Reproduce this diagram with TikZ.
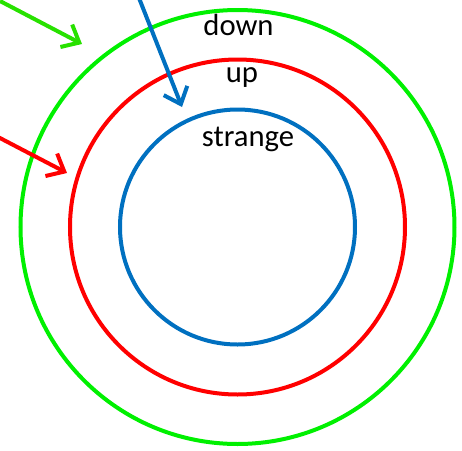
\documentclass[tikz,border=0pt]{standalone}
\usepackage{fontspec}
\setmainfont{Carlito}
\usetikzlibrary{arrows.meta,positioning,calc}
\definecolor{ringgreen}{RGB}{0,240,0}
\definecolor{arrowgreen}{RGB}{40,225,0}
\definecolor{ringred}{RGB}{255,0,0}
\definecolor{ringblue}{RGB}{0,112,192}

\begin{document}
\begin{tikzpicture}[x=0.75pt,y=-0.75pt,ring/.style={line width=3pt},arr/.style={line width=3pt,-{Straight Barb[length=11pt,width=19pt,line width=3pt]}},lbl/.style={font=\fontsize{23}{26}\selectfont,inner sep=0pt}]
\useasboundingbox (0,0) rectangle (462,451);
\coordinate (c) at (237.5,227);
\draw[ring,ringgreen](c) circle (217); \draw[ring,ringred](c) circle (167.5); \draw[ring,ringblue](c) circle (117.5);
\node[lbl](down) at (238.5,25){down}; \node[lbl](up) at (242,78){up}; \node[lbl](strange) at (248,139){strange};
\coordinate (gs) at (0,1); \coordinate (gt) at (82,44); \coordinate (rs) at (-2,137); \coordinate (rt) at (67,173);
\coordinate (bs) at (139,-2); \coordinate (bt) at (182,107);
\draw[arr,arrowgreen](gs)--(gt); \draw[arr,ringred](rs)--(rt); \draw[arr,ringblue](bs)--(bt);
\end{tikzpicture}
\end{document}
